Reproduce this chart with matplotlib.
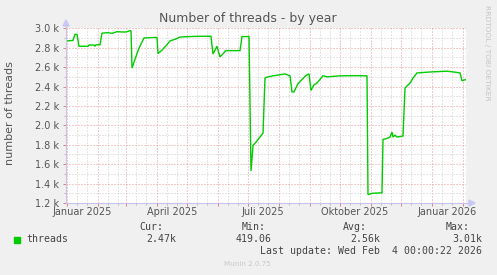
import matplotlib
matplotlib.use("Agg")
import matplotlib.pyplot as plt
import matplotlib.dates as mdates
from matplotlib.lines import Line2D
from matplotlib.patches import Polygon, Rectangle
import datetime as dt

W, H = 497, 275

# ---------------- data ----------------
dates = [
    "2025-01-01", "2025-01-07", "2025-01-09", "2025-01-11", "2025-01-13", "2025-01-22",
    "2025-01-23", "2025-01-28", "2025-01-29", "2025-01-30", "2025-02-03", "2025-02-05",
    "2025-02-11", "2025-02-15", "2025-02-20", "2025-02-25", "2025-03-01", "2025-03-05",
    "2025-03-06", "2025-03-07", "2025-03-09", "2025-03-13", "2025-03-16", "2025-03-19",
    "2025-03-27", "2025-04-01", "2025-04-02", "2025-04-06", "2025-04-10", "2025-04-14",
    "2025-04-20", "2025-04-24", "2025-05-04", "2025-05-14", "2025-05-25", "2025-05-27",
    "2025-05-31", "2025-06-03", "2025-06-09", "2025-06-23", "2025-06-25", "2025-07-02",
    "2025-07-04", "2025-07-06", "2025-07-10", "2025-07-16", "2025-07-18", "2025-07-20",
    "2025-07-26", "2025-08-07", "2025-08-12", "2025-08-14", "2025-08-16", "2025-08-20",
    "2025-08-28", "2025-08-31", "2025-09-02", "2025-09-05", "2025-09-08", "2025-09-14",
    "2025-09-18", "2025-10-01", "2025-10-16", "2025-10-28", "2025-10-29", "2025-11-02",
    "2025-11-12", "2025-11-13", "2025-11-17", "2025-11-20", "2025-11-22", "2025-11-23",
    "2025-11-25", "2025-11-27", "2025-12-03", "2025-12-05", "2025-12-10", "2025-12-13",
    "2025-12-17", "2025-12-30", "2026-01-16", "2026-01-24", "2026-01-29", "2026-01-31",
    "2026-02-03", "2026-02-04",
]
threads = [
    2870, 2875, 2938, 2938, 2815, 2815,
    2828, 2828, 2815, 2830, 2830, 2950,
    2955, 2948, 2965, 2962, 2962, 2975,
    2975, 2590, 2650, 2770, 2840, 2900,
    2905, 2905, 2740, 2775, 2820, 2870,
    2890, 2910, 2915, 2918, 2918, 2735,
    2815, 2705, 2770, 2770, 2915, 2915,
    1530, 1790, 1840, 1920, 2487, 2497,
    2510, 2530, 2510, 2345, 2345, 2430,
    2515, 2530, 2360, 2418, 2436, 2511,
    2500, 2510, 2512, 2510, 1285, 1300,
    1305, 1855, 1865, 1880, 1930, 1880,
    1898, 1880, 1890, 2385, 2436, 2487,
    2540, 2550, 2558, 2548, 2540, 2460,
    2470, 2470,
]
y_ticks = [1200, 1400, 1600, 1800, 2000, 2200, 2400, 2600, 2800, 3000]
y_ticklabels = ["1.2 k", "1.4 k", "1.6 k", "1.8 k", "2.0 k", "2.2 k", "2.4 k", "2.6 k", "2.8 k", "3.0 k"]
x_label_dates = ["2025-01-16", "2025-04-16", "2025-07-16", "2025-10-16", "2026-01-16"]
x_labels = ["Januar 2025", "April 2025", "Juli 2025", "Oktober 2025", "Januar 2026"]
legend_name = "threads"
stat_titles = ["Cur:", "Min:", "Avg:", "Max:"]
stat_values = ["2.47k", "419.06", "2.56k", "3.01k"]
last_update = "Last update: Wed Feb  4 00:00:22 2026"

# ---------------- figure ----------------
BG = "#F0F0F0"
TXT = "#555555"
AXC = "#C4C4EE"
fig = plt.figure(figsize=(W / 100, H / 100), dpi=100, facecolor=BG)

L, R, T, B = 66, 466, 28.3, 203
ax = fig.add_axes([L / W, 1 - B / H, (R - L) / W, (B - T) / H])
ax.set_facecolor("white")

xd = [dt.datetime.strptime(d, "%Y-%m-%d") for d in dates]
ax.set_xlim(dt.datetime(2024, 12, 31), dt.datetime(2026, 2, 4))
ax.set_ylim(1200, 3000)

# grid
ax.xaxis.set_major_locator(mdates.MonthLocator())
ax.xaxis.set_minor_locator(mdates.DayLocator(bymonthday=[11, 21]))
ax.set_yticks(y_ticks)
ax.set_yticks(list(range(1300, 3000, 200)), minor=True)
ax.set_yticklabels(y_ticklabels)
ax.set_xticklabels([])
ax.grid(which="minor", color="#CCCCCC", linestyle=(0, (1, 2)), linewidth=0.72)
ax.grid(which="major", color="#E59A9A", linestyle=(0, (1, 2)), linewidth=0.72)
ax.set_axisbelow(True)

ax.tick_params(axis="y", which="major", length=2.2, width=0.72, color="#E08080",
               labelsize=7, labelcolor=TXT, pad=2.5)
ax.tick_params(axis="y", which="minor", length=1.5, width=0.72, color="#BBBBBB")
ax.tick_params(axis="x", which="major", length=2.2, width=0.72, color="#E08080")
ax.tick_params(axis="x", which="minor", length=1.5, width=0.72, color="#BBBBBB")

for s in ax.spines.values():
    s.set_visible(False)

ax.plot(xd, threads, color="#00CC00", linewidth=1.0, solid_joinstyle="miter", zorder=3)

# x labels at mid-month
for d, lab in zip(x_label_dates, x_labels):
    ax.text(dt.datetime.strptime(d, "%Y-%m-%d"), -0.052, lab, transform=ax.get_xaxis_transform(),
            ha="center", va="center", fontsize=7, color=TXT)


def fx(x):
    return x / W


def fy(y):
    return 1 - y / H


# axis lines and arrows
fig.add_artist(Line2D([fx(L), fx(L)], [fy(B), fy(24)], color=AXC, lw=0.8))
fig.add_artist(Line2D([fx(L), fx(470)], [fy(B), fy(B)], color=AXC, lw=0.8))
fig.add_artist(Polygon([[fx(L - 3), fy(26)], [fx(L + 3), fy(26)], [fx(L), fy(20)]],
                       closed=True, color="#C8C8F4", transform=fig.transFigure))
fig.add_artist(Polygon([[fx(469), fy(B - 3)], [fx(469), fy(B + 3)], [fx(475), fy(B)]],
                       closed=True, color="#C8C8F4", transform=fig.transFigure))

# title and labels
fig.text(fx(248), fy(18.5), "Number of threads - by year", ha="center", va="center",
         fontsize=9, color=TXT)
fig.text(fx(10.5), fy(113), "number of threads", rotation=90, ha="center", va="center",
         fontsize=8, color=TXT)
fig.text(fx(487), fy(53), "RRDTOOL / TOBI OETIKER", rotation=270, ha="center", va="center",
         fontsize=5.4, color="#C4C4C4")

# legend
MONO = "DejaVu Sans Mono"
fs = 7.1
fig.add_artist(Rectangle((fx(14), fy(242.7)), 5.5 / W, 5.5 / H, color="#00CC00",
                         transform=fig.transFigure))
fig.text(fx(26.7), fy(239.5), legend_name, family=MONO, fontsize=fs, color="#444444",
         ha="left", va="center")
title_right = [163.3, 265.7, 366.7, 470]
value_right = [176, 271.7, 380, 482.3]
for t, xr in zip(stat_titles, title_right):
    fig.text(fx(xr), fy(227.5), t, family=MONO, fontsize=fs, color="#444444",
             ha="right", va="center")
for v, xr in zip(stat_values, value_right):
    fig.text(fx(xr), fy(239.5), v, family=MONO, fontsize=fs, color="#444444",
             ha="right", va="center")
fig.text(fx(482.3), fy(251.5), last_update, family=MONO, fontsize=fs, color="#444444",
         ha="right", va="center")
fig.text(fx(247.7), fy(263.5), "Munin 2.0.75", fontsize=5.1, color="#C8C8C8",
         ha="center", va="center")

fig.savefig("out.png", dpi=100, facecolor=BG)
